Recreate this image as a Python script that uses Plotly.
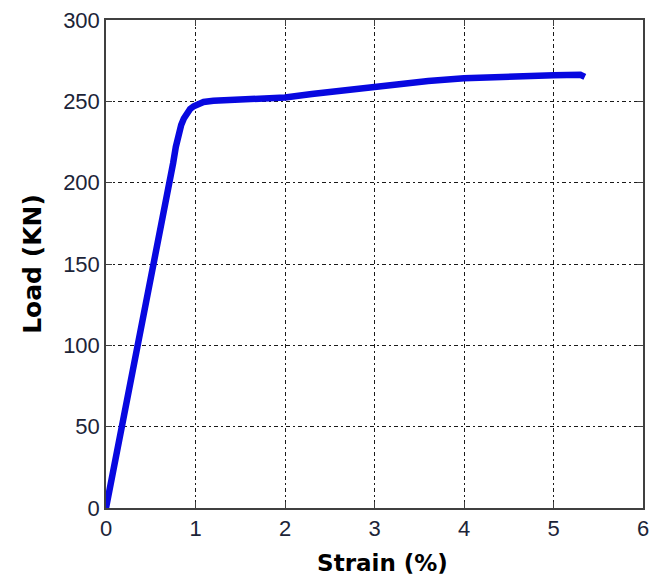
import plotly.graph_objects as go

strain = [0.0, 0.2, 0.4, 0.6, 0.72, 0.75, 0.78, 0.81, 0.84, 0.87, 0.9, 0.94, 0.98, 1.03, 1.09, 1.2, 1.35, 1.6, 1.8, 2.0, 2.3, 2.6, 3.0, 3.3, 3.6, 4.0, 4.3, 4.6, 5.0, 5.3, 5.35]
load = [0, 55.5, 111, 166.5, 200, 212, 222, 230, 235.5, 239.5, 242.5, 245.3, 247, 248.5, 249.6, 250.3, 250.8, 251.2, 251.7, 252.4, 254.5, 256.5, 259, 261, 262.5, 264.2, 265, 265.6, 266, 266.3, 265]

x_ticks = [0, 1, 2, 3, 4, 5, 6]
y_ticks = [0, 50, 100, 150, 200, 250, 300]

fig = go.Figure()
fig.add_trace(go.Scatter(x=strain, y=load, mode="lines",
                         line=dict(color="#0808e0", width=6.5),
                         showlegend=False))

axis_common = dict(
    showgrid=True, gridcolor="#1a1a1a", gridwidth=1, griddash="4px,3px,2px,3px",
    showline=True, linecolor="#404040", linewidth=1.5, mirror="ticks",
    ticks="inside", ticklen=6, tickcolor="#404040", zeroline=False, automargin=False,
    tickfont=dict(family="Liberation Sans", size=22, color="#1c2438"),
)

fig.update_xaxes(range=[0, 6], tickvals=x_ticks,
                 title=dict(text="<b>&nbsp;&nbsp;Strain (%)</b>",
                            font=dict(family="DejaVu Sans", size=23, color="#000"), standoff=15),
                 **axis_common)
fig.update_yaxes(range=[0, 300], tickvals=y_ticks,
                 title=dict(text="<b>Load (KN)</b>",
                            font=dict(family="DejaVu Sans", size=25, color="#000"), standoff=14),
                 **axis_common)

fig.update_layout(width=653, height=579, margin=dict(l=106, r=10, t=20, b=71),
                  paper_bgcolor="white", plot_bgcolor="white")

fig.write_html("out.html")
